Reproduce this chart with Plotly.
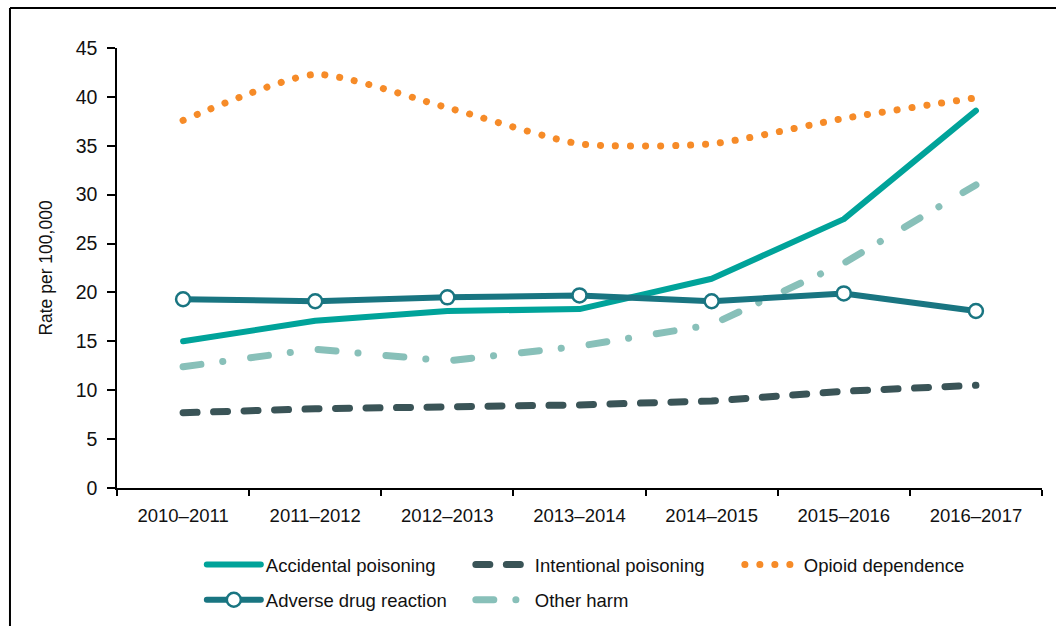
import plotly.graph_objects as go

years = ["2010–2011", "2011–2012", "2012–2013", "2013–2014", "2014–2015", "2015–2016", "2016–2017"]
accidental = [15.0, 17.1, 18.1, 18.3, 21.4, 27.5, 38.6]
intentional = [7.7, 8.1, 8.3, 8.5, 8.9, 9.9, 10.5]
opioid = [37.6, 42.3, 38.9, 35.2, 35.2, 37.8, 39.9]
adverse = [19.3, 19.1, 19.5, 19.7, 19.1, 19.9, 18.1]
other = [12.4, 14.2, 13.0, 14.5, 16.7, 23.0, 31.0]

FONT = "Liberation Sans, Arial, sans-serif"

fig = go.Figure()
fig.add_trace(go.Scatter(x=years, y=intentional, name="Intentional poisoning", mode="lines",
                         line=dict(color="#3A5457", width=7, dash="14px,16.5px"),
                         legend="legend", legendrank=2))
fig.add_trace(go.Scatter(x=years, y=other, name="Other harm", mode="lines",
                         line=dict(color="#88C0B9", width=7, dash="18px,22px,0.1px,28px"),
                         legend="legend2", legendrank=5))
fig.add_trace(go.Scatter(x=years, y=opioid, name="Opioid dependence", mode="lines",
                         line=dict(color="#F68B28", width=7, dash="0.1px,14.9px", shape="spline", smoothing=0.6),
                         legend="legend", legendrank=3))
fig.add_trace(go.Scatter(x=years, y=accidental, name="Accidental poisoning", mode="lines",
                         line=dict(color="#00A39A", width=6),
                         legend="legend", legendrank=1))
fig.add_trace(go.Scatter(x=years, y=adverse, name="Adverse drug reaction", mode="lines+markers",
                         line=dict(color="#197581", width=6),
                         marker=dict(size=14, color="white", line=dict(color="#197581", width=2.5)),
                         legend="legend2", legendrank=4))

legend_common = dict(orientation="h", xanchor="left", yanchor="middle",
                     font=dict(family=FONT, size=18.5, color="#111111"),
                     bgcolor="rgba(0,0,0,0)", entrywidth=200, entrywidthmode="pixels",
                     itemwidth=54, traceorder="normal")

fig.update_layout(
    width=1056, height=626,
    margin=dict(l=117, r=14, t=48, b=138, autoexpand=False),
    paper_bgcolor="white", plot_bgcolor="white",
    font=dict(family=FONT, size=18.5, color="#111111"),
    showlegend=True,
    legend=dict(x=0.0917, y=-0.175, **legend_common),
    legend2=dict(x=0.0917, y=-0.255, **legend_common),
    xaxis=dict(type="category", range=[-0.5, 6.5], tickson="boundaries",
               showline=True, linecolor="black", linewidth=1.5,
               ticks="outside", ticklen=6, tickwidth=1.5, tickcolor="black",
               showgrid=False, zeroline=False, tickfont=dict(size=18.5),
               ticklabelstandoff=10, automargin=False),
    yaxis=dict(range=[0, 45], dtick=5, tick0=0,
               showline=True, linecolor="black", linewidth=1.5,
               ticks="outside", ticklen=8, tickwidth=1.5, tickcolor="black",
               showgrid=False, zeroline=False, tickfont=dict(size=19.5),
               ticklabelstandoff=6, automargin=False,
               title=dict(text="Rate per 100,000", font=dict(size=17.5), standoff=19)),
    shapes=[
        dict(type="line", xref="paper", yref="paper", x0=-0.1157, x1=-0.1157, y0=-0.4, y1=1.0909,
             line=dict(color="black", width=2)),
        dict(type="line", xref="paper", yref="paper", x0=-0.1157, x1=1.05, y0=1.0909, y1=1.0909,
             line=dict(color="black", width=2)),
    ],
)

post = """
var s=document.createElement('style');
s.textContent='body{margin:0;padding:0;} .js-line, .legendlines path{stroke-linecap:round;stroke-linejoin:round;}';
document.head.appendChild(s);
"""
fig.write_html("out.html", post_script=post, config={"displayModeBar": False})
